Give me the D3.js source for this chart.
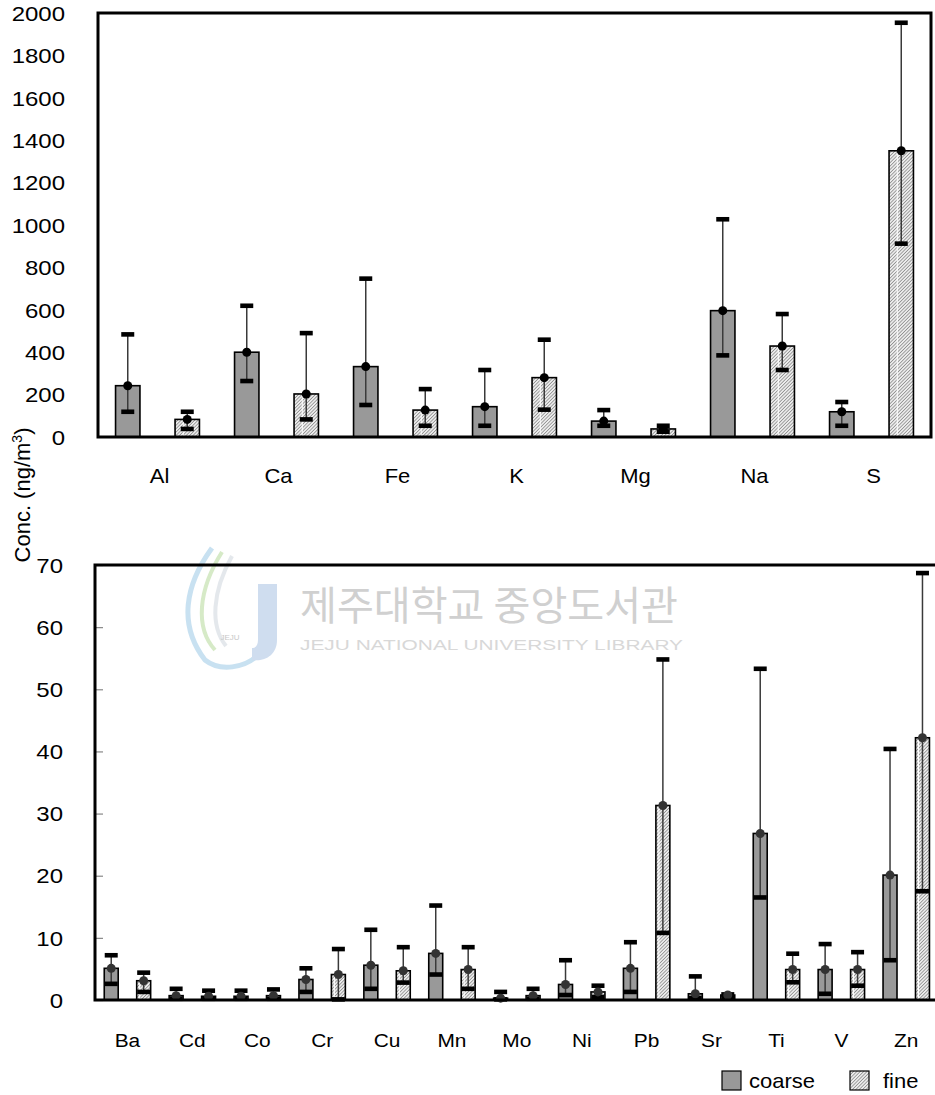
<!DOCTYPE html>
<html>
<head>
<meta charset="utf-8">
<script src="https://cdn.jsdelivr.net/npm/d3@7"></script>
<style>
  body { margin: 0; background: #fff; }
  svg { font-family: "Liberation Sans", Arial, sans-serif; }
</style>
</head>
<body>
<svg id="chart"></svg>
<script>
/*
    Data
*/
// major elements (upper panel)
var majorCats = ["Al", "Ca", "Fe", "K", "Mg", "Na", "S"];
var majorTicks = [0, 200, 400, 600, 800, 1000, 1200, 1400, 1600, 1800, 2000];
var majorCoarse = [242, 400, 332, 143, 75, 596, 119];
var majorCoarseLow = [119, 264, 151, 53, 53, 385, 53];
var majorCoarseHigh = [484, 619, 747, 316, 127, 1027, 165];
var majorFine = [83, 203, 127, 280, 38, 429, 1350];
var majorFineLow = [38, 83, 53, 129, 25, 316, 912];
var majorFineHigh = [119, 490, 226, 459, 53, 580, 1954];

// trace elements (lower panel)
var traceCats = ["Ba", "Cd", "Co", "Cr", "Cu", "Mn", "Mo", "Ni", "Pb", "Sr", "Ti", "V", "Zn"];
var traceTicks = [0, 10, 20, 30, 40, 50, 60, 70];
var traceCoarse = [5.1, 0.7, 0.6, 3.3, 5.6, 7.5, 0.3, 2.5, 5.1, 1.0, 26.8, 4.9, 20.1];
var traceCoarseLow = [2.6, 0.2, 0.2, 1.3, 1.8, 4.1, 0.1, 0.8, 1.3, 0.3, 16.5, 1.0, 6.4];
var traceCoarseHigh = [7.2, 1.8, 1.5, 5.1, 11.3, 15.2, 1.3, 6.4, 9.3, 3.8, 53.3, 9.0, 40.4];
var traceFine = [3.1, 0.6, 0.7, 4.1, 4.7, 4.9, 0.7, 1.3, 31.3, 0.8, 4.9, 4.9, 42.2];
var traceFineLow = [1.3, 0.2, 0.2, 0.1, 2.8, 1.8, 0.2, 0.5, 10.8, 0.3, 2.85, 2.3, 17.5];
var traceFineHigh = [4.4, 1.5, 1.7, 8.2, 8.5, 8.5, 1.8, 2.3, 54.8, 0.9, 7.45, 7.7, 68.7];

var seriesNames = ["coarse", "fine"];

/*
    Setup
*/
var W = 935, H = 1095;
var svg = d3.select("#chart").attr("width", W).attr("height", H);

var defs = svg.append("defs");
var hatch = defs.append("pattern")
    .attr("id", "hatch")
    .attr("patternUnits", "userSpaceOnUse")
    .attr("width", 2.4).attr("height", 2.4)
    .attr("patternTransform", "rotate(45)");
hatch.append("rect").attr("width", 2.4).attr("height", 2.4).attr("fill", "#ececec");
hatch.append("line").attr("x1", 0).attr("y1", 0).attr("x2", 0).attr("y2", 2.4)
    .attr("stroke", "#707070").attr("stroke-width", 1.2);

var fills = { coarse: "#999999", fine: "url(#hatch)" };

// stretch text a bit horizontally, the source glyphs are wide
function wideText(sel, s) {
    sel.attr("transform", function() {
        var t = d3.select(this).attr("data-t") || "";
        return t + " scale(" + s + ",1)";
    });
}

function rows(cats, c, cl, ch, f, fl, fh) {
    var out = [];
    cats.forEach(function(cat, i) {
        out.push({ cat: cat, s: "coarse", v: c[i], lo: cl[i], hi: ch[i] });
        out.push({ cat: cat, s: "fine", v: f[i], lo: fl[i], hi: fh[i] });
    });
    return out;
}

/*
    Panel drawing
*/
function panel(opt) {
    var g = svg.append("g");

    var x = d3.scaleBand().domain(opt.cats).range([opt.left, opt.right]).padding(0);
    var y = d3.scaleLinear().domain([0, opt.max]).range([opt.bottom, opt.top]);
    var bw = x.bandwidth();
    var barW = bw * opt.barFrac;

    function cx(d) {
        return x(d.cat) + bw * (d.s == "coarse" ? 0.25 : 0.75);
    }

    // watermark goes under the marks
    if (opt.under) opt.under(g);

    // y axis with inner ticks
    var yAxis = d3.axisLeft(y).tickValues(opt.ticks).tickFormat(d3.format("d"))
        .tickSizeInner(opt.tickIn).tickSizeOuter(0);
    var ax = g.append("g")
        .attr("transform", "translate(" + opt.left + ",0)")
        .call(yAxis);
    ax.select(".domain").remove();
    ax.selectAll(".tick line").attr("stroke", "#888").attr("stroke-width", 1.2);
    ax.selectAll(".tick text")
        .attr("x", 0)
        .attr("dy", "0.36em")
        .attr("font-size", 20)
        .attr("fill", "#000")
        .attr("font-family", "Liberation Sans, Arial, sans-serif")
        .attr("data-t", "translate(" + (-opt.labelGap) + ",0)")
        .call(wideText, 1.2);

    var data = rows(opt.cats, opt.c, opt.cl, opt.ch, opt.f, opt.fl, opt.fh);

    // bars
    g.selectAll(".bar").data(data).enter().append("rect")
        .attr("class", "bar")
        .attr("x", function(d) { return cx(d) - barW / 2; })
        .attr("y", function(d) { return y(d.v); })
        .attr("width", barW)
        .attr("height", function(d) { return y(0) - y(d.v); })
        .attr("fill", function(d) { return fills[d.s]; })
        .attr("stroke", "#000")
        .attr("stroke-width", 1.6);

    // the thin light streak inside the hatched bars
    g.selectAll(".streak").data(data.filter(function(d) { return d.s == "fine"; }))
        .enter().append("line")
        .attr("x1", function(d) { return cx(d) - 4; })
        .attr("x2", function(d) { return cx(d) - 4; })
        .attr("y1", function(d) { return y(d.v) + 2; })
        .attr("y2", function(d) { return y(0) - 1; })
        .attr("stroke", "#fff")
        .attr("stroke-width", 1);

    // error range lines
    g.selectAll(".err").data(data).enter().append("line")
        .attr("x1", cx).attr("x2", cx)
        .attr("y1", function(d) { return y(d.lo); })
        .attr("y2", function(d) { return y(d.hi); })
        .attr("stroke", "#3a3a3a")
        .attr("stroke-width", 1.5);

    // caps
    ["lo", "hi"].forEach(function(k) {
        g.selectAll(".cap-" + k).data(data).enter().append("rect")
            .attr("x", function(d) { return cx(d) - 6.5; })
            .attr("y", function(d) { return y(d[k]) - 2.3; })
            .attr("width", 13)
            .attr("height", 4.6)
            .attr("fill", "#000");
    });

    // mean dots
    g.selectAll(".dot").data(data).enter().append("circle")
        .attr("cx", cx)
        .attr("cy", function(d) { return y(d.v); })
        .attr("r", 4.5)
        .attr("fill", opt.dotColor);

    // frame
    g.append("rect")
        .attr("x", opt.left).attr("y", opt.top)
        .attr("width", opt.right - opt.left)
        .attr("height", opt.bottom - opt.top)
        .attr("fill", "none")
        .attr("stroke", "#000")
        .attr("stroke-width", 3);

    // category labels
    g.selectAll(".cat").data(opt.cats).enter().append("text")
        .attr("text-anchor", "middle")
        .attr("font-size", opt.catSize)
        .attr("data-t", function(d) { return "translate(" + (x(d) + bw / 2 + opt.catShift) + "," + opt.catY + ")"; })
        .text(function(d) { return d; })
        .call(wideText, 1.1);
}

panel({
    cats: majorCats, ticks: majorTicks, max: 2000,
    left: 98, right: 931, top: 13, bottom: 437,
    barFrac: 0.205, tickIn: 0, labelGap: 33,
    c: majorCoarse, cl: majorCoarseLow, ch: majorCoarseHigh,
    f: majorFine, fl: majorFineLow, fh: majorFineHigh,
    dotColor: "#000", catSize: 20, catY: 483, catShift: 2
});

panel({
    cats: traceCats, ticks: traceTicks, max: 70,
    left: 95, right: 938.7, top: 565, bottom: 1000,
    barFrac: 0.215, tickIn: -8, labelGap: 32,
    c: traceCoarse, cl: traceCoarseLow, ch: traceCoarseHigh,
    f: traceFine, fl: traceFineLow, fh: traceFineHigh,
    dotColor: "#333", catSize: 19, catY: 1047, catShift: 0,
    under: function(g) {
        // library watermark
        var wm = g.append("g").attr("opacity", 0.55);
        wm.append("path")
            .attr("d", "M212,548 C185,585 178,625 205,660 C220,672 245,668 258,655")
            .attr("fill", "none").attr("stroke", "#9cc9e6").attr("stroke-width", 5);
        wm.append("path")
            .attr("d", "M222,552 C198,590 195,628 215,650")
            .attr("fill", "none").attr("stroke", "#b5d99a").attr("stroke-width", 4);
        wm.append("path")
            .attr("d", "M232,556 C212,592 210,626 226,646")
            .attr("fill", "none").attr("stroke", "#cfd6de").attr("stroke-width", 4);
        wm.append("path")
            .attr("d", "M258,584 L277,584 L277,640 C277,655 265,662 252,660 L252,648 C256,648 258,645 258,640 Z")
            .attr("fill", "#a9c3e3");
        wm.append("text").attr("x", 230).attr("y", 640).attr("text-anchor", "middle")
            .attr("font-size", 8).attr("fill", "#999").text("JEJU");
        g.append("text")
            .attr("x", 300).attr("y", 620)
            .attr("font-family", "Noto Sans CJK KR")
            .attr("font-size", 40)
            .attr("fill", "#d0d0d0")
            .attr("textLength", 378)
            .attr("lengthAdjust", "spacingAndGlyphs")
            .text("제주대학교 중앙도서관");
        g.append("text")
            .attr("x", 300).attr("y", 650)
            .attr("font-size", 15)
            .attr("fill", "#d8d8d8")
            .attr("textLength", 383)
            .attr("lengthAdjust", "spacingAndGlyphs")
            .text("JEJU NATIONAL UNIVERSITY  LIBRARY");
    }
});

// shared y title
svg.append("text")
    .attr("transform", "translate(30,495) rotate(-90)")
    .attr("text-anchor", "middle")
    .attr("font-size", 22)
    .html("Conc. (ng/m<tspan baseline-shift='super' font-size='14'>3</tspan>)");

// legend
var legX = [722, 850];
var leg = svg.selectAll(".leg").data(seriesNames).enter().append("g")
    .attr("transform", function(d, i) { return "translate(" + legX[i] + ",1071)"; });
leg.append("rect")
    .attr("width", 19).attr("height", 19)
    .attr("fill", function(d) { return fills[d]; })
    .attr("stroke", "#000").attr("stroke-width", 1.2);
leg.append("text")
    .attr("data-t", function(d, i) { return "translate(" + (i ? 33 : 27) + ",17)"; })
    .attr("font-size", 20)
    .text(function(d) { return d; })
    .call(wideText, 1.1);
</script>
</body>
</html>
